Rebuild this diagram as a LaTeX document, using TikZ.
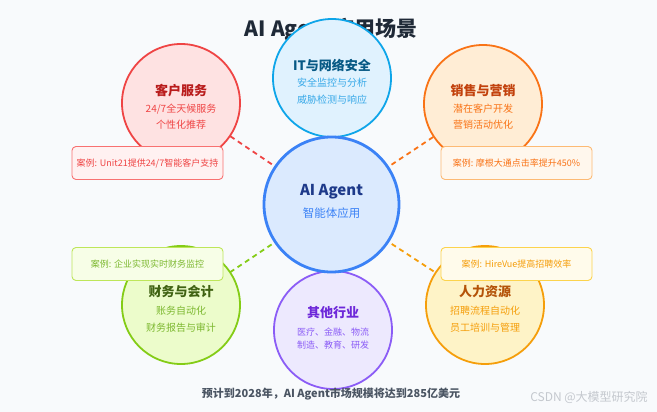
\documentclass[tikz,border=0pt]{standalone}
\usepackage{fontspec}
\setmainfont{Noto Sans CJK SC}
\usetikzlibrary{backgrounds}
\definecolor{bgc}{HTML}{F8FAFC}
\definecolor{titlec}{HTML}{1F2937}
\definecolor{cfill}{HTML}{DBEAFE}\definecolor{cdraw}{HTML}{3B82F6}\definecolor{ct1}{HTML}{1E3A8A}
\definecolor{itfill}{HTML}{E0F2FE}\definecolor{itdraw}{HTML}{0EA5E9}\definecolor{itt}{HTML}{075985}\definecolor{its}{HTML}{38A9E8}
\definecolor{csfill}{HTML}{FEE2E2}\definecolor{csdraw}{HTML}{EF4444}\definecolor{cst}{HTML}{B91C1C}
\definecolor{slfill}{HTML}{FFEDD5}\definecolor{sldraw}{HTML}{F97316}\definecolor{slt}{HTML}{C2410C}
\definecolor{fnfill}{HTML}{ECFCCB}\definecolor{fndraw}{HTML}{84CC16}\definecolor{fnt}{HTML}{3F6212}\definecolor{fns}{HTML}{7CB82F}
\definecolor{hrfill}{HTML}{FEF3C7}\definecolor{hrdraw}{HTML}{F59E0B}\definecolor{hrt}{HTML}{B45309}
\definecolor{otfill}{HTML}{EDE9FE}\definecolor{otdraw}{HTML}{8B5CF6}\definecolor{ott}{HTML}{6D28D9}
\definecolor{rbfill}{HTML}{FFF1F1}\definecolor{rbdraw}{HTML}{F87171}
\definecolor{obfill}{HTML}{FFF7ED}\definecolor{obdraw}{HTML}{FDBA74}
\definecolor{gbfill}{HTML}{F7FEE7}\definecolor{gbdraw}{HTML}{BEE65A}
\definecolor{ybfill}{HTML}{FFFBEB}\definecolor{ybdraw}{HTML}{FCD34D}
\definecolor{footc}{HTML}{4B5563}
\definecolor{wmc}{HTML}{C4C8CE}
\begin{document}
\begin{tikzpicture}[x=1pt,y=-1pt,
  circ/.style={circle,minimum size=118pt,inner sep=0pt,line width=1.8pt},
  ttl/.style={font=\fontsize{13}{15}\selectfont\bfseries,inner sep=0pt},
  sub/.style={font=\fontsize{10}{12}\selectfont,inner sep=0pt},
  small/.style={font=\fontsize{9}{11}\selectfont,inner sep=0pt},
  casebox/.style={rectangle,rounded corners=4pt,minimum width=151pt,minimum height=33pt,inner sep=0pt,line width=0.9pt,font=\fontsize{9}{11}\selectfont},
  link/.style={line width=1.8pt,dash pattern=on 5pt off 4pt}
]
\useasboundingbox (0,0) rectangle (657,412);
% title (behind IT circle)
\node[font=\fontsize{21}{24}\selectfont\bfseries,text=titlec,inner sep=0pt] (title) at (331,30) {AI Agent应用场景};
% circles
\node[circ,fill=itfill,draw=itdraw] (it) at (332,78) {};
\node[circ,fill=csfill,draw=csdraw] (cs) at (181,103) {};
\node[circ,fill=slfill,draw=sldraw] (sl) at (483,104) {};
\node[circ,fill=fnfill,draw=fndraw] (fn) at (181,305) {};
\node[circ,fill=hrfill,draw=hrdraw] (hr) at (485,305) {};
\node[circ,fill=otfill,draw=otdraw] (ot) at (333,330) {};
\node[circle,minimum size=135pt,inner sep=0pt,line width=2.8pt,fill=cfill,draw=cdraw] (ctr) at (331.5,204.5) {};
% connectors behind
\begin{pgfonlayer}{background}
\fill[bgc] (0,0) rectangle (657,412);
\draw[link,draw=csdraw] (ctr.center) -- (cs.center);
\draw[link,draw=sldraw] (ctr.center) -- (sl.center);
\draw[link,draw=fndraw] (ctr.center) -- (fn.center);
\draw[link,draw=hrdraw] (ctr.center) -- (hr.center);
\end{pgfonlayer}
% center text
\node[font=\fontsize{15}{17}\selectfont\bfseries,text=ct1,inner sep=0pt] (ct-a) at (331.5,192) {AI Agent};
\node[font=\fontsize{11.5}{13}\selectfont,text=cdraw,inner sep=0pt] (ct-b) at (331.5,213) {智能体应用};
% IT
\node[ttl,text=itt] (it-t) at (332,66) {IT与网络安全};
\node[sub,text=its] (it-s1) at (332,83) {安全监控与分析};
\node[sub,text=its] (it-s2) at (332,100) {威胁检测与响应};
% customer service
\node[ttl,text=cst] (cs-t) at (181,91) {客户服务};
\node[sub,text=csdraw] (cs-s1) at (181,109) {24/7全天候服务};
\node[sub,text=csdraw] (cs-s2) at (181,125) {个性化推荐};
% sales
\node[ttl,text=slt] (sl-t) at (483,91) {销售与营销};
\node[sub,text=sldraw] (sl-s1) at (483,109) {潜在客户开发};
\node[sub,text=sldraw] (sl-s2) at (483,125) {营销活动优化};
% finance
\node[ttl,text=fnt] (fn-t) at (181,292) {财务与会计};
\node[sub,text=fns] (fn-s1) at (181,311) {账务自动化};
\node[sub,text=fns] (fn-s2) at (181,328) {财务报告与审计};
% HR
\node[ttl,text=hrt] (hr-t) at (485,292) {人力资源};
\node[sub,text=hrdraw] (hr-s1) at (485,311) {招聘流程自动化};
\node[sub,text=hrdraw] (hr-s2) at (485,328) {员工培训与管理};
% other
\node[ttl,text=ott] (ot-t) at (333,313) {其他行业};
\node[small,text=otdraw] (ot-s1) at (333,332) {医疗、金融、物流};
\node[small,text=otdraw] (ot-s2) at (333,345) {制造、教育、研发};
% case boxes
\node[casebox,fill=rbfill,draw=rbdraw,text=csdraw] (cb1) at (147.5,163) {案例: Unit21提供24/7智能客户支持};
\node[casebox,fill=obfill,draw=obdraw,text=sldraw] (cb2) at (516.5,163) {案例: 摩根大通点击率提升450\%};
\node[casebox,fill=gbfill,draw=gbdraw,text=fns] (cb3) at (147.5,264) {案例: 企业实现实时财务监控};
\node[casebox,fill=ybfill,draw=ybdraw,text=hrdraw] (cb4) at (516.5,264) {案例: HireVue提高招聘效率};
% footer
\node[font=\fontsize{11}{13}\selectfont\bfseries,text=footc,inner sep=0pt] (foot) at (331,394) {预计到2028年，AI Agent市场规模将达到285亿美元};
\node[font=\fontsize{12}{14}\selectfont,text=wmc,inner sep=0pt] (wm) at (589,397) {CSDN @大模型研究院};
\end{tikzpicture}
\end{document}
